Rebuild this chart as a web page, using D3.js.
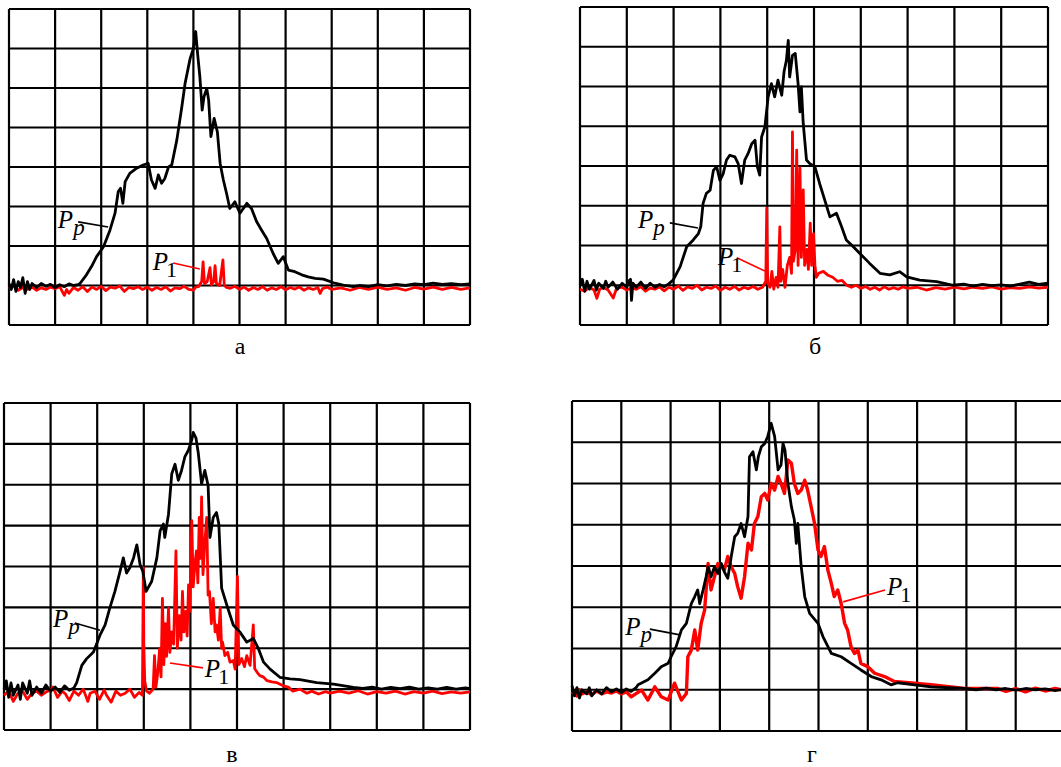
<!DOCTYPE html>
<html><head><meta charset="utf-8">
<script src="https://cdn.jsdelivr.net/npm/d3@7"></script>
<style>html,body{margin:0;padding:0;background:#fff;overflow:hidden}</style>
</head><body>
<svg id="chart" width="1061" height="767"></svg>
<script>
// ---------- DATA (x: horizontal divisions 0..10, y: vertical divisions 0..8) ----------
const panelLabels = ["а", "б", "в", "г"];
const traceNames = ["P", "p", "1"];

const aPp = [[0,1.05],[0.05,0.9],[0.1,1.15],[0.15,0.85],[0.2,1.1],[0.25,0.95],[0.3,1.2],[0.35,0.8],[0.4,1.1],[0.45,0.9],[0.5,1.05],[0.6,0.95],[0.7,1.05],[0.8,0.98],[0.9,1.03],[1.0,0.95],[1.1,1.02],[1.2,0.97],[1.3,1.04],[1.4,1.0],[1.5,1.02],
[1.54,1.05],[1.68,1.27],[1.79,1.48],[1.9,1.73],[2.05,1.98],[2.19,2.4],[2.3,2.83],[2.37,3.38],[2.42,3.46],[2.47,3.08],[2.52,3.63],[2.62,3.84],[2.77,3.97],[2.91,4.05],[3.02,4.09],[3.09,3.67],[3.17,3.46],[3.24,3.8],[3.31,3.59],[3.38,3.71],[3.46,4.0],[3.53,4.05],[3.64,4.68],[3.75,5.53],[3.82,6.12],[3.93,6.75],[4.0,7.0],[4.05,7.43],[4.09,6.88],[4.14,6.29],[4.19,5.44],[4.23,5.78],[4.29,5.99],[4.33,5.7],[4.38,4.77],[4.45,5.23],[4.52,4.89],[4.58,4.09],[4.65,3.67],[4.72,3.33],[4.79,2.95],[4.9,3.12],[5.01,2.83],[5.16,3.08],[5.26,2.95],[5.37,2.62],[5.48,2.4],[5.59,2.19],[5.73,1.81],[5.84,1.56],[5.95,1.73],[6.06,1.39],[6.2,1.35],[6.35,1.27],[6.49,1.22],[6.64,1.18],[6.82,1.16],[7.04,1.07],[7.25,1.01],[7.47,0.97],
[7.6,1.0],[7.8,0.97],[8.0,1.02],[8.2,0.99],[8.4,1.03],[8.6,1.0],[8.8,1.04],[9.0,1.02],[9.2,1.06],[9.4,1.03],[9.6,1.05],[9.8,1.02],[10,1.04]];

const aP1 = [[0,0.92],[0.1,0.98],[0.2,0.88],[0.3,0.95],[0.4,0.9],[0.5,0.96],[0.6,0.88],[0.7,0.94],[0.8,0.9],[0.9,0.96],[1.0,0.92],[1.1,0.97],[1.2,0.75],[1.25,0.9],[1.3,0.8],[1.4,0.95],[1.5,0.88],[1.6,0.97],[1.7,0.85],[1.8,0.96],[1.9,0.9],[2.0,0.98],[2.1,0.87],[2.2,0.96],[2.3,0.93],[2.4,0.99],[2.5,0.85],[2.6,0.95],[2.7,0.92],[2.8,0.97],[2.9,0.9],[3.0,0.96],[3.1,0.88],[3.2,0.95],[3.3,0.9],[3.4,0.97],[3.5,0.86],[3.6,0.94],[3.7,0.92],[3.8,0.98],[3.9,0.9],[4.0,0.88],[4.05,0.96],[4.12,0.98],
[4.18,1.1],[4.21,1.6],[4.24,1.05],[4.3,1.1],[4.36,1.45],[4.39,1.02],[4.44,1.1],[4.47,1.5],[4.5,1.05],[4.57,1.0],[4.64,1.65],[4.67,1.0],[4.72,0.95],[4.8,0.93],[4.9,0.98],[5.0,0.9],[5.1,0.96],[5.2,0.88],[5.3,0.95],[5.4,0.9],[5.5,0.97],[5.6,0.88],[5.7,0.94],[5.8,0.9],[5.9,0.97],[6.0,0.89],[6.1,0.95],[6.2,0.91],[6.3,0.96],[6.4,0.88],[6.5,0.94],[6.6,0.9],[6.7,0.95],[6.75,0.8],[6.8,0.92],[6.9,0.96],[7.0,0.9],[7.2,0.94],[7.4,0.88],[7.6,0.95],[7.8,0.9],[8.0,0.96],[8.2,0.9],[8.4,0.94],[8.6,0.88],[8.8,0.95],[9.0,0.91],[9.2,0.96],[9.4,0.9],[9.6,0.95],[9.8,0.9],[10,0.94]];

const bPp = [[0,1.0],[0.05,1.15],[0.1,0.85],[0.15,1.1],[0.2,0.9],[0.3,1.12],[0.35,0.88],[0.4,1.05],[0.5,0.92],[0.55,1.1],[0.6,0.95],[0.7,1.08],[0.8,0.9],[0.9,1.05],[1.0,0.95],[1.05,1.12],[1.08,1.15],[1.1,0.62],[1.13,1.05],[1.2,0.95],[1.3,1.08],[1.4,0.92],[1.5,1.05],[1.6,0.95],[1.7,1.02],[1.8,0.96],[1.9,1.04],
[1.99,1.13],[2.14,1.47],[2.28,1.97],[2.42,2.14],[2.53,2.3],[2.58,2.47],[2.63,3.06],[2.7,3.31],[2.78,3.39],[2.85,3.89],[2.92,3.98],[2.99,3.64],[3.06,3.81],[3.13,4.15],[3.2,4.27],[3.31,4.23],[3.38,4.06],[3.45,3.56],[3.52,4.15],[3.59,4.31],[3.67,4.56],[3.74,4.65],[3.79,3.98],[3.84,3.77],[3.88,4.73],[3.95,4.98],[4.02,5.74],[4.09,6.07],[4.16,5.74],[4.23,6.16],[4.31,5.78],[4.36,6.37],[4.41,6.66],[4.45,7.16],[4.48,6.24],[4.54,6.78],[4.6,6.83],[4.66,6.07],[4.7,5.36],[4.73,5.99],[4.77,5.07],[4.84,4.15],[4.91,4.06],[5.02,3.98],[5.12,3.56],[5.23,3.14],[5.34,2.72],[5.48,2.81],[5.59,2.47],[5.69,2.14],[5.84,1.97],[5.98,1.8],[6.19,1.55],[6.41,1.3],[6.62,1.26],[6.83,1.34],[6.98,1.21],[7.26,1.13],[7.62,1.09],[7.97,1.0],
[8.2,1.03],[8.4,0.98],[8.6,1.02],[8.8,0.99],[9.0,1.01],[9.2,0.98],[9.4,1.03],[9.6,1.08],[9.8,1.02],[10,1.05]];

const bP1 = [[0,0.9],[0.1,0.85],[0.2,0.95],[0.3,0.88],[0.36,0.67],[0.42,0.9],[0.5,0.95],[0.6,0.88],[0.71,0.68],[0.78,0.92],[0.9,0.95],[1.0,0.88],[1.1,0.93],[1.2,0.9],[1.3,0.96],[1.4,0.85],[1.5,0.93],[1.6,0.9],[1.7,0.96],[1.8,0.86],[1.9,0.95],[2.0,0.9],[2.1,0.98],[2.2,0.87],[2.3,0.96],[2.4,0.92],[2.5,1.0],[2.6,0.88],[2.7,0.95],[2.8,0.92],[2.9,0.98],[3.0,0.87],[3.1,0.95],[3.2,0.9],[3.3,0.97],[3.4,0.88],[3.5,0.95],[3.6,0.91],[3.7,0.97],[3.8,0.9],[3.9,0.95],
[3.97,1.1],[3.99,2.94],[4.01,1.05],[4.06,0.95],[4.1,1.35],[4.14,0.9],[4.19,1.2],[4.23,0.95],[4.27,2.47],[4.29,1.1],[4.33,1.4],[4.38,0.95],[4.43,1.5],[4.48,1.7],[4.52,1.3],[4.54,4.86],[4.56,1.6],[4.6,1.9],[4.63,4.4],[4.66,1.5],[4.7,3.95],[4.73,1.7],[4.77,3.4],[4.8,1.5],[4.85,1.9],[4.88,1.4],[4.92,2.56],[4.95,1.5],[4.99,2.3],[5.02,1.5],[5.05,1.2],[5.1,1.3],[5.2,1.35],[5.3,1.25],[5.4,1.2],[5.5,1.1],[5.6,1.12],[5.7,1.0],[5.8,0.95],[5.9,1.0],[6.0,0.92],[6.1,0.97],[6.2,0.9],[6.3,0.95],[6.4,0.88],[6.5,0.96],[6.6,0.9],[6.7,0.94],[6.8,0.9],[6.9,0.96],[7.0,0.92],[7.2,0.95],[7.4,0.88],[7.6,0.94],[7.8,0.9],[8.0,0.95],[8.2,0.91],[8.4,0.95],[8.6,0.92],[8.8,0.96],[9.0,0.9],[9.2,0.94],[9.4,0.92],[9.6,0.96],[9.8,0.93],[10,0.95]];

const cPp = [[0,1.0],[0.05,1.2],[0.1,0.8],[0.15,1.15],[0.2,0.85],[0.3,1.1],[0.35,0.75],[0.4,1.15],[0.5,0.9],[0.55,1.2],[0.6,0.85],[0.7,1.05],[0.8,0.9],[0.9,1.1],[1.0,0.95],[1.1,1.05],[1.2,0.92],[1.3,1.08],[1.4,0.97],[1.5,1.03],
[1.56,1.16],[1.67,1.58],[1.77,1.74],[1.92,1.91],[2.06,2.32],[2.17,2.57],[2.27,2.98],[2.38,3.39],[2.49,3.88],[2.56,4.21],[2.63,3.84],[2.7,3.97],[2.78,4.21],[2.85,4.53],[2.92,4.05],[2.98,3.88],[3.05,3.39],[3.17,3.64],[3.28,4.21],[3.35,4.87],[3.42,5.04],[3.45,4.71],[3.53,5.28],[3.6,6.27],[3.67,6.5],[3.74,6.11],[3.81,6.35],[3.88,6.68],[3.96,6.85],[4.03,7.1],[4.06,7.28],[4.12,7.14],[4.17,6.77],[4.24,6.02],[4.31,6.35],[4.38,5.98],[4.42,4.71],[4.49,5.2],[4.56,5.32],[4.61,5.04],[4.67,3.47],[4.78,3.06],[4.92,2.57],[5.06,2.4],[5.21,2.15],[5.35,2.24],[5.46,1.99],[5.57,1.66],[5.71,1.49],[5.92,1.29],[6.14,1.25],[6.35,1.23],[6.71,1.16],[7.07,1.12],[7.5,1.04],
[7.7,1.02],[7.9,1.05],[8.1,1.0],[8.3,1.04],[8.5,1.01],[8.7,1.05],[8.9,1.0],[9.1,1.03],[9.3,1.0],[9.5,1.04],[9.7,1.0],[9.9,1.03],[10,1.01]];

const cP1 = [[0,0.85],[0.1,0.95],[0.2,0.7],[0.3,0.9],[0.4,0.95],[0.5,0.75],[0.6,0.9],[0.7,0.95],[0.8,0.85],[0.9,0.93],[1.0,0.98],[1.05,1.05],[1.15,0.8],[1.25,0.95],[1.32,0.88],[1.4,0.72],[1.5,0.95],[1.6,0.85],[1.7,1.0],[1.8,0.7],[1.85,0.9],[1.95,0.95],[2.05,0.75],[2.15,0.98],[2.2,0.85],[2.3,0.68],[2.4,0.95],[2.5,0.85],[2.6,0.9],[2.7,1.0],[2.8,0.8],[2.9,0.92],[2.97,0.85],
[2.99,3.97],[3.0,2.1],[3.02,1.2],[3.06,0.95],[3.12,0.9],[3.2,1.0],[3.23,1.82],[3.26,1.05],[3.3,1.4],[3.34,1.99],[3.37,1.3],[3.4,3.22],[3.43,1.6],[3.46,2.6],[3.49,1.8],[3.53,2.98],[3.56,1.9],[3.6,2.4],[3.64,2.1],[3.69,4.38],[3.72,2.0],[3.76,2.8],[3.8,2.2],[3.83,3.39],[3.86,2.4],[3.9,2.9],[3.93,2.3],[3.96,3.55],[3.99,2.9],[4.03,5.12],[4.06,3.5],[4.1,4.1],[4.13,4.38],[4.16,3.6],[4.19,5.2],[4.22,4.2],[4.24,5.7],[4.27,3.8],[4.31,4.6],[4.35,5.2],[4.38,3.3],[4.41,3.39],[4.45,2.6],[4.49,3.22],[4.53,2.4],[4.56,2.57],[4.6,2.2],[4.64,2.98],[4.67,2.0],[4.69,2.15],[4.74,1.82],[4.8,1.9],[4.85,1.66],[4.92,1.7],[4.96,1.49],[5.01,3.76],[5.04,1.6],[5.1,1.75],[5.16,1.55],[5.21,1.82],[5.28,1.58],[5.35,2.57],[5.38,1.5],[5.44,1.4],[5.49,1.33],[5.56,1.3],[5.64,1.21],[5.75,1.18],[5.85,1.16],[5.99,1.08],[6.1,1.05],[6.2,0.95],[6.35,1.0],[6.5,0.9],[6.6,0.95],[6.75,0.88],[6.9,0.94],[7.0,0.9],[7.2,0.95],[7.4,0.9],[7.6,0.96],[7.8,0.88],[8.0,0.94],[8.2,0.9],[8.4,0.95],[8.6,0.88],[8.8,0.94],[9.0,0.9],[9.2,0.95],[9.4,0.89],[9.6,0.93],[9.8,0.9],[10,0.93]];

const dPp = [[0,1.1],[0.05,0.85],[0.1,1.05],[0.15,0.8],[0.2,1.0],[0.3,0.9],[0.35,1.05],[0.4,0.85],[0.5,1.0],[0.6,0.9],[0.7,1.05],[0.8,0.95],[0.9,1.02],[1.0,0.93],[1.1,1.02],[1.2,0.96],[1.3,1.05],
[1.34,1.12],[1.54,1.24],[1.68,1.4],[1.81,1.56],[1.95,1.64],[2.01,1.8],[2.11,2.04],[2.22,2.45],[2.32,2.61],[2.42,3.09],[2.49,3.26],[2.55,3.42],[2.59,3.09],[2.66,3.42],[2.72,3.74],[2.76,3.98],[2.82,3.74],[2.89,3.98],[2.96,3.82],[3.03,4.06],[3.09,3.86],[3.16,3.7],[3.23,4.23],[3.3,4.71],[3.36,4.79],[3.43,5.03],[3.5,4.71],[3.57,5.2],[3.6,6.65],[3.67,6.77],[3.74,6.33],[3.78,6.65],[3.84,6.89],[3.91,6.97],[3.97,7.14],[4.04,7.46],[4.11,7.14],[4.18,6.33],[4.24,6.45],[4.28,6.97],[4.32,6.81],[4.38,6.0],[4.45,5.44],[4.51,5.12],[4.55,4.55],[4.58,5.03],[4.65,3.98],[4.72,3.26],[4.82,2.85],[4.99,2.61],[5.09,2.29],[5.26,1.88],[5.46,1.8],[5.66,1.64],[5.86,1.48],[6.07,1.32],[6.27,1.24],[6.47,1.12],[6.61,1.17],[6.95,1.12],[7.28,1.07],[7.96,1.03],
[8.2,1.0],[8.4,1.04],[8.6,1.0],[8.8,1.03],[9.0,0.99],[9.2,1.03],[9.4,1.0],[9.6,1.02],[9.8,0.98],[10,1.02]];

const dP1 = [[0,0.95],[0.1,0.85],[0.15,1.0],[0.2,0.9],[0.3,0.95],[0.4,0.88],[0.5,0.97],[0.6,0.9],[0.7,0.95],[0.8,0.92],[0.9,0.97],[1.0,0.9],[1.1,0.95],
[1.2,0.83],[1.41,0.99],[1.54,0.75],[1.68,1.07],[1.81,0.83],[1.95,0.75],[2.08,1.16],[2.22,0.75],[2.32,0.91],[2.35,1.8],[2.42,1.96],[2.49,2.45],[2.55,1.96],[2.62,2.61],[2.69,2.93],[2.76,4.06],[2.82,3.42],[2.89,3.74],[2.96,4.06],[3.03,3.98],[3.09,3.9],[3.16,4.23],[3.23,3.98],[3.3,3.82],[3.36,3.5],[3.43,3.22],[3.5,3.74],[3.57,4.55],[3.64,4.39],[3.7,5.03],[3.77,5.2],[3.84,5.68],[3.91,5.76],[3.97,5.6],[4.04,6.0],[4.11,5.84],[4.18,6.17],[4.24,6.0],[4.31,5.76],[4.38,6.57],[4.45,6.49],[4.51,6.0],[4.58,5.76],[4.65,5.84],[4.72,6.08],[4.78,5.84],[4.85,5.44],[4.92,5.03],[4.99,4.39],[5.05,4.23],[5.12,4.47],[5.19,3.9],[5.26,3.58],[5.32,3.26],[5.39,3.42],[5.46,3.09],[5.53,2.61],[5.59,2.45],[5.66,2.04],[5.73,1.88],[5.8,1.96],[5.86,1.64],[6.0,1.56],[6.14,1.4],[6.34,1.32],[6.54,1.2],[6.95,1.16],[7.28,1.12],[7.96,1.03],[8.64,1.03],
[8.8,0.96],[9.0,1.03],[9.2,0.95],[9.4,1.04],[9.6,0.97],[9.8,1.03],[10,0.98]];

// annotation anchors (division units): [textX, textY, lineX1, lineY1, lineX2, lineY2]
const annPp = [[1.06,2.46,1.5,2.61,2.15,2.48],[1.24,2.44,1.92,2.57,2.52,2.44],[1.05,2.52,1.52,2.62,2.06,2.44],[1.08,2.33,1.58,2.47,2.19,2.33]];
const annP1 = [[3.12,1.39,3.56,1.57,4.14,1.42],[2.95,1.51,3.35,1.69,4.0,1.33],[4.31,1.3,4.27,1.52,3.56,1.64],[6.39,3.3,6.35,3.42,5.5,3.13]];

// ---------- LAYOUT ----------
const frames = [
  {x0:9,   x1:470,  y0:9,   y1:325, lx:240, ly:354},
  {x0:580, x1:1048, y0:7,   y1:325, lx:815, ly:354},
  {x0:4,   x1:470,  y0:403, y1:730, lx:232, ly:762},
  {x0:572, x1:1065, y0:401, y1:731, lx:812, ly:762}
];
const black = [aPp, bPp, cPp, dPp];
const red = [aP1, bP1, cP1, dP1];

const svg = d3.select("#chart");
svg.append("rect").attr("width",1061).attr("height",767).attr("fill","#fff");

frames.forEach((f, i) => {
  const x = d3.scaleLinear().domain([0,10]).range([f.x0, f.x1]);
  const y = d3.scaleLinear().domain([0,8]).range([f.y1, f.y0]);
  const g = svg.append("g");

  // grid
  g.selectAll("line.v").data(d3.range(0,11)).join("line")
    .attr("x1", d => x(d)).attr("x2", d => x(d)).attr("y1", y(0)).attr("y2", y(8))
    .attr("stroke","#000").attr("stroke-width",2.2);
  g.selectAll("line.h").data(d3.range(0,9)).join("line")
    .attr("x1", x(0)).attr("x2", x(10)).attr("y1", d => y(d)).attr("y2", d => y(d))
    .attr("stroke","#000").attr("stroke-width",2.2);

  const line = d3.line().x(d => x(d[0])).y(d => y(d[1])).curve(d3.curveLinear);

  g.append("path").datum(red[i]).attr("d", line)
    .attr("fill","none").attr("stroke","#ff0000").attr("stroke-width", i===3 ? 3.4 : 2.8)
    .attr("stroke-linejoin","round");
  g.append("path").datum(black[i]).attr("d", line)
    .attr("fill","none").attr("stroke","#000").attr("stroke-width",2.8)
    .attr("stroke-linejoin","round");

  // annotations
  const ap = annPp[i];
  g.append("line").attr("x1", x(ap[2])).attr("y1", y(ap[3])).attr("x2", x(ap[4])).attr("y2", y(ap[5]))
    .attr("stroke","#000").attr("stroke-width",1.6);
  const tp = g.append("text").attr("x", x(ap[0])).attr("y", y(ap[1]))
    .attr("font-family","'Liberation Serif', 'Times New Roman', serif").attr("font-size",25).attr("fill","#000");
  tp.append("tspan").attr("font-style","italic").text(traceNames[0]);
  tp.append("tspan").attr("font-style","italic").attr("font-size",23).attr("dy",7).text(traceNames[1]);

  const a1 = annP1[i];
  g.append("line").attr("x1", x(a1[2])).attr("y1", y(a1[3])).attr("x2", x(a1[4])).attr("y2", y(a1[5]))
    .attr("stroke","#ff0000").attr("stroke-width",1.6);
  const t1 = g.append("text").attr("x", x(a1[0])).attr("y", y(a1[1]))
    .attr("font-family","'Liberation Serif', 'Times New Roman', serif").attr("font-size",25).attr("fill","#000");
  t1.append("tspan").attr("font-style","italic").text(traceNames[0]);
  t1.append("tspan").attr("font-size",22).attr("dy",7).attr("dx",-2).text(traceNames[2]);

  // panel label
  svg.append("text").attr("x", f.lx).attr("y", f.ly).attr("text-anchor","middle")
    .attr("font-family","'Liberation Serif', 'Times New Roman', serif").attr("font-size",24).attr("fill","#000")
    .text(panelLabels[i]);
});
</script>
</body></html>
